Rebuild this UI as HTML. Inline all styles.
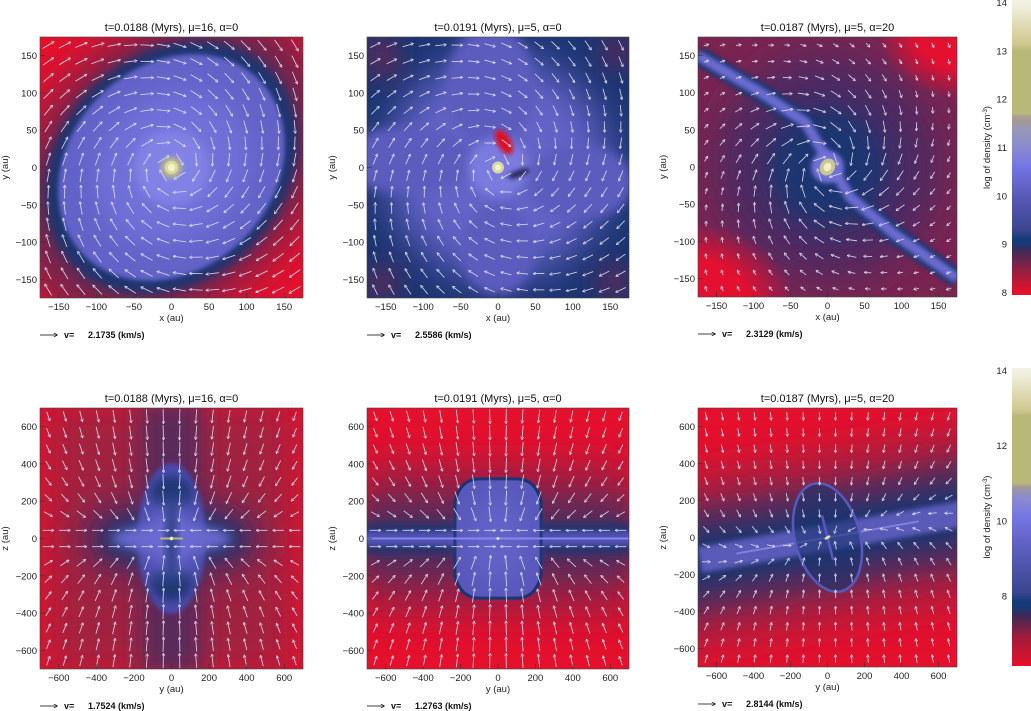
<!DOCTYPE html>
<html><head><meta charset="utf-8">
<style>
html,body{margin:0;padding:0;background:#fff;}
svg{display:block;font-family:"Liberation Sans",sans-serif;}
</style></head>
<body>
<svg id="fig" width="1031" height="711" viewBox="0 0 1031 711" xmlns="http://www.w3.org/2000/svg">
<defs>
<filter id="b2" x="-50%" y="-50%" width="200%" height="200%"><feGaussianBlur stdDeviation="2"/></filter>
<filter id="b5" x="-50%" y="-50%" width="200%" height="200%"><feGaussianBlur stdDeviation="5"/></filter>
<filter id="b12" x="-100%" y="-100%" width="300%" height="300%"><feGaussianBlur stdDeviation="12"/></filter>
<filter id="b20" x="-100%" y="-100%" width="300%" height="300%"><feGaussianBlur stdDeviation="20"/></filter>
<radialGradient id="redglow"><stop offset="0" stop-color="#e41030"/><stop offset="0.55" stop-color="#e41030"/><stop offset="1" stop-color="#e41030" stop-opacity="0"/></radialGradient>
<marker id="ah" viewBox="0 0 6 6" refX="5" refY="3" markerWidth="3.5" markerHeight="3.5" orient="auto"><path d="M0,0 L6,3 L0,6" fill="none" stroke="#dcdcec" stroke-width="1.2"/></marker>
<marker id="ahk" viewBox="0 0 6 6" refX="5" refY="3" markerWidth="5" markerHeight="5" orient="auto"><path d="M0,0 L6,3 L0,6" fill="none" stroke="#000" stroke-width="1"/></marker>
</defs>
</svg>
<script>
const NS='http://www.w3.org/2000/svg';
const svg=document.getElementById('fig');
function mk(tag,attrs,parent){const e=document.createElementNS(NS,tag);for(const k in attrs)e.setAttribute(k,attrs[k]);(parent||svg).appendChild(e);return e;}

const titles=["t=0.0188 (Myrs), \u03bc=16, \u03b1=0","t=0.0191 (Myrs), \u03bc=5, \u03b1=0","t=0.0187 (Myrs), \u03bc=5, \u03b1=20",
"t=0.0188 (Myrs), \u03bc=16, \u03b1=0","t=0.0191 (Myrs), \u03bc=5, \u03b1=0","t=0.0187 (Myrs), \u03bc=5, \u03b1=20"];
const velocities=["2.1735","2.5586","2.3129","1.7524","1.2763","2.8144"];
const topTicks=[-150,-100,-50,0,50,100,150];
const botTicks=[-600,-400,-200,0,200,400,600];
const cbTopTicks=[8,9,10,11,12,13,14];
const cbBotTicks=[8,10,12,14];

const panels=[
 {L:40,T:37,W:263,H:261,R:175,ticks:topTicks,xl:"x (au)",yl:"y (au)",kind:'spiral'},
 {L:367,T:37,W:262,H:261,R:175,ticks:topTicks,xl:"x (au)",yl:"y (au)",kind:'spiral2'},
 {L:698,T:37,W:259,H:260,R:175,ticks:topTicks,xl:"x (au)",yl:"y (au)",kind:'band'},
 {L:40,T:408,W:263,H:261,R:700,ticks:botTicks,xl:"y (au)",yl:"z (au)",kind:'infall'},
 {L:367,T:408,W:262,H:261,R:700,ticks:botTicks,xl:"y (au)",yl:"z (au)",kind:'infall2'},
 {L:698,T:408,W:259,H:259,R:700,ticks:botTicks,xl:"y (au)",yl:"z (au)",kind:'tilt'}
];

panels.forEach((p,i)=>{
 const g=mk('g',{});
 
 
 const cid='clip'+i;
 const cp=mk('clipPath',{id:cid},g);mk('rect',{x:p.L,y:p.T,width:p.W,height:p.H},cp);
 const sx=v=>p.L+p.W/2+v*p.W/(2*p.R);
 const sy=v=>p.T+p.H/2-v*p.H/(2*p.R);
 const s=p.W/(2*p.R);
 const cx=sx(0),cy=sy(0);
 const bg=mk('g',{'clip-path':'url(#'+cid+')'},g);
 
 
 const E=(rx,ry,rot,fill,f,ox,oy)=>mk('ellipse',{cx:sx(ox||0),cy:sy(oy||0),rx:rx*s,ry:ry*s,fill:fill,filter:f?'url(#'+f+')':'',transform:'rotate('+rot+' '+sx(ox||0)+' '+sy(oy||0)+')'},bg);
 const Rc=(fill)=>mk('rect',{x:p.L-5,y:p.T-5,width:p.W+10,height:p.H+10,fill:fill},bg);
 if(p.kind==='spiral'){
  Rc('#e4102c');
  E(235,175,-45,'#6a2850','b20');
  E(185,150,-45,'#1b3470','b5');
  E(165,135,-45,'#6262c8','b2');
  E(110,95,-45,'#7070d8','b12');
  E(50,50,0,'#8282e6','b5');
  E(14,14,0,'#b8b888','b2');E(9,9,0,'#d8d8a0','');E(5,5,0,'#f2f2d0','');
 } else if(p.kind==='spiral2'){
  Rc('#1b3470');
  E(150,150,0,'#6060c4','b20');
  E(100,100,0,'#6464c8','b12');
  E(90,45,0,'#5c5cbe','b5',-120,10);
  E(60,80,0,'#5c5cbe','b5',-10,110);
  E(70,50,0,'#5c5cbe','b5',110,-20);
  E(50,60,0,'#5c5cbe','b5',0,-110);
  E(40,40,0,'#7a7ae0','b5');
  mk('rect',{x:p.L,y:p.T,width:30,height:40,fill:'#5a2a5a',filter:'url(#b12)'},bg);
  mk('rect',{x:p.L+p.W-25,y:p.T,width:25,height:30,fill:'#5a2a5a',filter:'url(#b12)'},bg);
  mk('rect',{x:p.L,y:p.T+p.H-30,width:30,height:30,fill:'#5a2a5a',filter:'url(#b12)'},bg);
  mk('rect',{x:p.L+p.W-30,y:p.T+p.H-30,width:30,height:30,fill:'#5a2a5a',filter:'url(#b12)'},bg);
  E(9,18,-30,'#e01020','b2',8,34);
  E(16,5,-20,'#2a2a60','b2',28,-8);
  E(8,8,0,'#d8d8a0','');E(4,4,0,'#f2f2d0','');
 } else if(p.kind==='band'){
  Rc('#7a2450');
  E(150,150,0,'#4a2c64','b20');
  E(80,80,0,'#1b3470','b12');
  mk('ellipse',{cx:sx(185),cy:sy(185),rx:120*s,ry:95*s,fill:'url(#redglow)'},bg);
  mk('ellipse',{cx:sx(-185),cy:sy(-185),rx:140*s,ry:110*s,fill:'url(#redglow)'},bg);
  const pl=[[-175,150],[-90,100],[-30,60],[30,-40],[90,-90],[175,-150]];
  const d=pl.map((q,k)=>(k?'L':'M')+sx(q[0])+','+sy(q[1])).join(' ');
  mk('path',{d:d,fill:'none',stroke:'#1b3470','stroke-width':26*s,filter:'url(#b2)'},bg);
  mk('path',{d:d,fill:'none',stroke:'#6a6ad0','stroke-width':14*s,filter:'url(#b2)'},bg);
  E(22,22,0,'#7070d8','b2');
  E(10,12,30,'#c8c890','');E(5,6,30,'#f0f0c8','');
 } else if(p.kind==='infall'){
  Rc('#e4102c');
  mk('rect',{x:sx(-650),y:p.T-5,width:1300*s,height:p.H+10,fill:'#a02040',filter:'url(#b20)'},bg);
  mk('rect',{x:sx(-160),y:p.T-5,width:320*s,height:p.H+10,fill:'#5a2a5a',filter:'url(#b12)'},bg);
  E(500,230,0,'#5a2a5a','b20');
  E(400,140,0,'#1b3470','b12');
  E(180,400,0,'#4c4cac','b2');
  E(110,90,0,'#1b3470','b5',0,240);E(110,90,0,'#1b3470','b5',0,-240);
  E(320,75,0,'#6868cc','b5');
  E(120,190,0,'#6a6ad4','b12');
  E(25,200,0,'#1b3470','b5');
  mk('line',{x1:sx(-60),x2:sx(60),y1:cy,y2:cy,stroke:'#b8b880','stroke-width':2},bg);
  E(10,10,0,'#e8e8a8','');
 } else if(p.kind==='infall2'){
  Rc('#e4102c');
  mk('rect',{x:p.L-5,y:sy(380),width:p.W+10,height:760*s,fill:'#8a2448',filter:'url(#b20)'},bg);
  mk('rect',{x:p.L-5,y:sy(200),width:p.W+10,height:400*s,fill:'#5a2a5a',filter:'url(#b12)'},bg);
  mk('rect',{x:p.L-5,y:sy(80),width:p.W+10,height:160*s,fill:'#1b3470',filter:'url(#b5)'},bg);
  mk('rect',{x:p.L-5,y:sy(40),width:p.W+10,height:80*s,fill:'#5050b0',filter:'url(#b2)'},bg);
  mk('path',{d:'M'+sx(-230)+','+sy(200)+' Q'+sx(-200)+','+sy(320)+' '+sx(-100)+','+sy(320)+' L'+sx(100)+','+sy(320)+' Q'+sx(200)+','+sy(320)+' '+sx(230)+','+sy(200)+' L'+sx(230)+','+sy(-200)+' Q'+sx(200)+','+sy(-320)+' '+sx(100)+','+sy(-320)+' L'+sx(-100)+','+sy(-320)+' Q'+sx(-200)+','+sy(-320)+' '+sx(-230)+','+sy(-200)+' Z',fill:'#5858bc',stroke:'#1b3470','stroke-width':3},bg);
  E(150,230,0,'#6262c8','b12');
  mk('line',{x1:p.L,x2:p.L+p.W,y1:cy,y2:cy,stroke:'#8888ee','stroke-width':2},bg);
  E(8,8,0,'#e8e8a8','');
 } else if(p.kind==='tilt'){
  Rc('#e4102c');
  const gt=mk('g',{transform:'rotate(-10 '+cx+' '+cy+')'},bg);
  mk('rect',{x:p.L-80,y:sy(440),width:p.W+160,height:880*s,fill:'#9a2244',filter:'url(#b20)'},gt);
  mk('rect',{x:p.L-80,y:sy(280),width:p.W+160,height:560*s,fill:'#5a2a5a',filter:'url(#b12)'},gt);
  mk('rect',{x:p.L-80,y:sy(150),width:p.W+160,height:300*s,fill:'#1b3470',filter:'url(#b12)'},gt);
  mk('rect',{x:sx(-700),y:sy(70),width:1450*s,height:140*s,fill:'#5a5ab8',filter:'url(#b2)'},gt);
  mk('line',{x1:sx(-500),x2:sx(500),y1:cy,y2:cy,stroke:'#8080e0','stroke-width':2},gt);
  mk('ellipse',{cx:cx,cy:cy,rx:175*s,ry:300*s,fill:'#1b3470','fill-opacity':0.6,stroke:'#5858bc','stroke-width':14*s,transform:'rotate(-15 '+cx+' '+cy+')'},bg);
  mk('line',{x1:sx(-30),y1:sy(120),x2:sx(30),y2:sy(-120),stroke:'#5858bc','stroke-width':14*s},bg);
  E(18,8,-30,'#e0e0a0','');
 }
 const ag=mk('g',{'clip-path':'url(#'+cid+')'},g);
 const n=16;
 for(let a=0;a<n;a++)for(let b=0;b<n;b++){
  const x=-p.R+p.R*2*(a+0.5)/n, y=-p.R+p.R*2*(b+0.5)/n;
  const r=Math.hypot(x,y)/p.R+1e-6;
  let vx,vy,len;
  if(p.kind==='spiral'){vx=y-0.25*x;vy=-x-0.25*y;len=13;}
  else if(p.kind==='spiral2'){vx=y-0.35*x;vy=-x-0.35*y;len=11;}
  else if(p.kind==='band'){vx=0.8*y-0.4*x;vy=-0.8*x-0.4*y;len=Math.min(13,5+14*Math.max(0,1-r));}
  else if(p.kind==='infall'||p.kind==='infall2'){vx=-x*0.35;vy=-y;if(Math.abs(y)<60){vx=-x;vy=0;}len=Math.abs(y)<60?11:Math.max(8,15-6*Math.abs(x)/p.R);}
  else {vx=-x*0.25;vy=-y+0.2*x;len=8;}
  const m=Math.hypot(vx,vy)+1e-9;
  const px=sx(x),py=sy(y);
  const dx=vx/m*len*0.5, dy=-vy/m*len*0.5;
  const ln=mk('line',{x1:px-dx,y1:py-dy,x2:px+dx,y2:py+dy,stroke:'#dcdcec','stroke-width':0.9,'stroke-opacity':0.9,'marker-end':'url(#ah)'},ag);
  
  
 }
 const fr=mk('rect',{x:p.L,y:p.T,width:p.W,height:p.H,fill:'none',stroke:'#444','stroke-width':0.6},g);
 
 
 p.ticks.forEach(t=>{
  const tx=mk('text',{x:sx(t),y:p.T+p.H+12,'font-size':'9.5','text-anchor':'middle',fill:'#222'},g);
  tx.textContent=(t<0?'\u2212':'')+Math.abs(t);
  
  
  const ty=mk('text',{x:p.L-3,y:sy(t)+3.5,'font-size':'9.5','text-anchor':'end',fill:'#222'},g);
  ty.textContent=(t<0?'\u2212':'')+Math.abs(t);
  
  
  mk('line',{x1:sx(t),x2:sx(t),y1:p.T+p.H,y2:p.T+p.H-5,stroke:'#333','stroke-width':0.6},g);
  mk('line',{x1:p.L,x2:p.L+5,y1:sy(t),y2:sy(t),stroke:'#333','stroke-width':0.6},g);
 });
 const tt=mk('text',{x:p.L+p.W/2,y:p.T-6,'font-size':'11','text-anchor':'middle',fill:'#111'},g);
 tt.textContent=titles[i];
 
 
 const xl=mk('text',{x:p.L+p.W/2,y:p.T+p.H+23,'font-size':'9.5','text-anchor':'middle',fill:'#222'},g);
 xl.textContent=p.xl;
 
 
 const yx=p.L-32,yy=p.T+p.H/2;
 const yl=mk('text',{x:yx,y:yy,'font-size':'9.5','text-anchor':'middle',fill:'#222',transform:'rotate(-90 '+yx+' '+yy+')'},g);
 yl.textContent=p.yl;
 
 
 const ly=p.T+p.H+37;
 const la=mk('line',{x1:p.L,x2:p.L+17,y1:ly,y2:ly,stroke:'#000','stroke-width':0.8,'marker-end':'url(#ahk)'},g);
 
 
 const lt=mk('text',{x:p.L+24,y:ly+3,'font-size':'9','font-weight':'bold',fill:'#111'},g);
 lt.textContent='v=';
 
 
 const lv=mk('text',{x:p.L+48,y:ly+3,'font-size':'9','font-weight':'bold',fill:'#111'},g);
 lv.textContent=velocities[i]+' (km/s)';
 
 
});

const cbStopsVal=[8,8.5,8.9,9.0,9.1,9.3,10,10.6,11,11.4,11.55,11.65,11.7,13.0,13.15,14];
const cbStopsCol=['#e8102a','#8a2242','#3a2a5a','#163a78','#163a78','#3a4690','#5a5ab8','#7474e4','#8a8ad0','#9898b4','#a29898','#aca08e','#b8b87a','#b8b87a','#d0c890','#f2f2e4'];
const cbBotVal=[6.1,6.9,7.5,7.7,7.85,8.1,9.5,10.1,10.6,10.9,11.0,12.8,12.95,14];
const cbBotCol=['#e8102a','#a01c3a','#3a2a5a','#163a78','#163a78','#3a4690','#6464c8','#7676e4','#8a8ad0','#a09898','#b8b87a','#b8b87a','#d0c890','#f2f2e4'];
function colorbar(id,x,y0,y1,vmin,vmax,vals,cols,ticks,name){
 const g=mk('g',{});
 
 
 const lg=mk('linearGradient',{id:id,x1:0,y1:1,x2:0,y2:0},g);
 vals.forEach((v,k)=>mk('stop',{offset:(v-vmin)/(vmax-vmin),'stop-color':cols[k]},lg));
 mk('rect',{x:x,y:y0,width:1031-x,height:y1-y0,fill:'url(#'+id+')'},g);
 const vy=v=>y1-(v-vmin)/(vmax-vmin)*(y1-y0);
 ticks.forEach(t=>{
  const tx=mk('text',{x:x-5,y:vy(t)+3.5,'font-size':'9.5','text-anchor':'end',fill:'#222'},g);
  tx.textContent=t;
  
  
 });
 const cy=(y0+y1)/2, lx=990;
 const lab=mk('text',{x:lx,y:cy,'font-size':'9.5','text-anchor':'middle',fill:'#222',transform:'rotate(-90 '+lx+' '+cy+')'},g);
 lab.innerHTML='log of density (cm<tspan dy="-3" font-size="6">-3</tspan><tspan dy="3">)</tspan>';
 
 
}
colorbar('cbt',1012,0,295,7.95,14.05,cbStopsVal,cbStopsCol,cbTopTicks,'colorbar-top');
colorbar('cbb',1012,368,666,6.13,14.07,cbBotVal,cbBotCol,cbBotTicks,'colorbar-bottom');
</script>
</body></html>
